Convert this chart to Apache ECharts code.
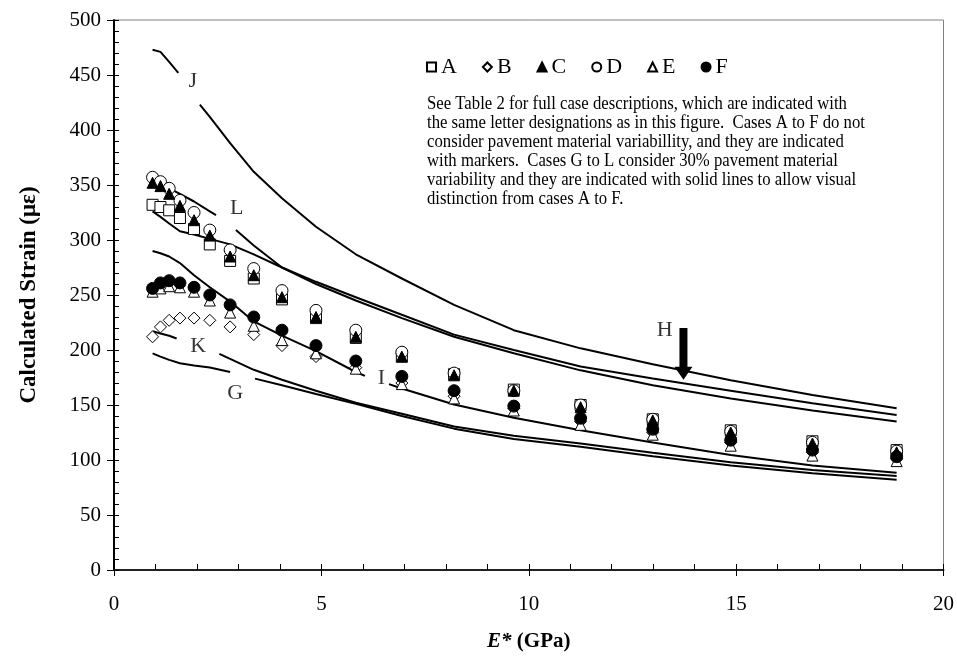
<!DOCTYPE html>
<html>
<head>
<meta charset="utf-8">
<script src="https://cdn.jsdelivr.net/npm/echarts@6/dist/echarts.min.js"></script>
<style>
html,body{margin:0;padding:0;background:#fff;}
#chart{width:957px;height:659px;}
</style>
</head>
<body>
<div id="chart"></div>
<script>
// ---------- data ----------
const E_GPA = [0.93, 1.12, 1.33, 1.59, 1.93, 2.31, 2.80, 3.37, 4.05, 4.87, 5.83, 6.94, 8.20, 9.64, 11.25, 12.99, 14.87, 16.84, 18.87];
const A = [332, 330, 327, 320, 310, 296, 281, 265, 246, 229, 211, 194, 178, 164, 150, 137, 127, 117, 109];
const B = [212, 221, 227, 229, 229, 227, 221, 214, 204, 194, 184, 170, 158, 147, 135, 125, 116, 107, 101];
const C = [352, 349, 342, 331, 318, 304, 285, 268, 248, 230, 212, 194, 177, 163, 148, 136, 125, 115, 107];
const D = [357, 353, 347, 336, 325, 309, 291, 274, 254, 236, 218, 198, 179, 163, 150, 137, 126, 116, 108];
const E = [253, 256, 258, 257, 253, 245, 234, 222, 209, 197, 183, 169, 156, 145, 132, 123, 113, 104, 99];
const F = [256, 261, 263, 261, 257, 250, 241, 230, 218, 204, 190, 176, 163, 149, 138, 128, 118, 109, 103];

// lines (null = break in the line where a label sits)
const J_X = [0.93, 1.12, 1.33, 1.55, null, 2.07, 2.31, 2.80, 3.37, 4.05, 4.87, 5.83, 6.94, 8.20, 9.64, 11.25, 12.99, 14.87, 16.84, 18.87];
const J_Y = [473, 471, 462, 452, null, 423, 412, 388, 362, 338, 312, 287, 265, 241, 218, 201.5, 187, 172.5, 159, 147];
const L_X = [0.93, 1.12, 1.33, 1.59, 1.93, 2.31, 2.46, null, 2.94, 3.37, 4.05, 4.87, 5.83, 6.94, 8.20, 9.64, 11.25, 12.99, 14.87, 16.84, 18.87];
const L_Y = [354, 351, 347, 342, 335, 326, 322.7, null, 309, 295, 275, 260, 245, 229, 212, 197, 181.5, 168, 156, 145, 135];
const H_X = [0.93, 1.12, 1.33, 1.59, 1.93, 2.31, 2.80, 3.37, 4.05, 4.87, 5.83, 6.94, 8.20, 9.64, 11.25, 12.99, 14.87, 16.84, 18.87];
const H_Y = [326, 321, 315, 308, 305, 301, 296, 287, 275, 262, 248, 232, 214, 200, 185, 174, 163, 151.5, 141];
const I_X = [0.93, 1.12, 1.33, 1.59, 1.93, 2.31, 2.80, 3.37, 4.05, 4.87, 5.83, 6.05, null, 6.63, 6.94, 8.20, 9.64, 11.25, 12.99, 14.87, 16.84, 18.87];
const I_Y = [290, 288, 285, 279, 268, 257, 244, 226, 213, 199, 180, 176.5, null, 169, 165, 150.5, 138.5, 127, 116, 104.5, 95, 88.5];
const K_X = [0.93, 1.12, 1.33, 1.51, null, 2.54, 2.80, 3.37, 4.05, 4.87, 5.83, 6.94, 8.20, 9.64, 11.25, 12.99, 14.87, 16.84, 18.87];
const K_Y = [217, 215, 213, 210.5, null, 196.5, 192, 182, 173, 163, 152, 142, 130.5, 122, 115, 106.5, 98, 91, 85.5];
const G_X = [0.93, 1.12, 1.33, 1.59, 1.93, 2.31, 2.80, null, 3.40, 4.05, 4.87, 5.83, 6.94, 8.20, 9.64, 11.25, 12.99, 14.87, 16.84, 18.87];
const G_Y = [197, 194, 191, 188, 186, 184, 180, null, 174, 168, 160, 151, 140, 128.5, 119, 112, 103.5, 95, 88, 82];

// line labels [text, x, y] and H arrow [x, yFrom, yTo]
const LINE_LABELS = [['J', 1.90, 444], ['L', 2.96, 329], ['K', 2.03, 203], ['G', 2.92, 161], ['I', 6.45, 174], ['H', 13.28, 218]];
const H_ARROW = [13.73, 220, 173];

const X_TICKS = {min: 0, max: 20, interval: 5};
const Y_TICKS = {min: 0, max: 500, interval: 50};

const NOTE = [
  'See Table 2 for full case descriptions, which are indicated with',
  'the same letter designations as in this figure.  Cases A to F do not',
  'consider pavement material variabillity, and they are indicated',
  'with markers.  Cases G to L consider 30% pavement material',
  'variability and they are indicated with solid lines to allow visual',
  'distinction from cases A to F.'
];

// ---------- chart ----------
const FONT = '"Liberation Serif", "Times New Roman", serif';
const chart = echarts.init(document.getElementById('chart'), null, {renderer: 'canvas'});

function pairs(xs, ys) {
  return xs.map((x, i) => (x === null ? ['-', '-'] : [x, ys[i]]));
}
function lineSeries(name, xs, ys) {
  return {
    name: name, type: 'line', data: pairs(xs, ys), symbol: 'none',
    connectNulls: false, z: 2, silent: true,
    lineStyle: {color: '#000', width: 2}
  };
}
function markerSeries(name, ys, symbol, size, fill, z) {
  return {
    name: name, type: 'scatter', data: E_GPA.map((x, i) => [x, ys[i]]),
    symbol: symbol, symbolSize: size, z: z,
    itemStyle: {color: fill, borderColor: '#000', borderWidth: 1, opacity: 1}
  };
}

const axisCommonX = {
  type: 'value', min: X_TICKS.min, max: X_TICKS.max, interval: X_TICKS.interval,
  splitLine: {show: false}
};
const axisCommonY = {
  type: 'value', min: Y_TICKS.min, max: Y_TICKS.max, interval: Y_TICKS.interval,
  splitLine: {show: false}
};

const option = {
  animation: false,
  backgroundColor: '#fff',
  grid: {left: 114, right: 13, top: 20, bottom: 89, show: true, borderColor: '#808080', borderWidth: 1},
  legend: {
    data: [
      {name: 'A', icon: 'rect'}, {name: 'B', icon: 'diamond'}, {name: 'C', icon: 'triangle'},
      {name: 'D', icon: 'circle'}, {name: 'E', icon: 'triangle'}, {name: 'F', icon: 'circle'}
    ],
    left: 421, top: 51, itemWidth: 9, itemHeight: 9, itemGap: 25,
    textStyle: {fontFamily: FONT, fontSize: 22, color: '#000'},
    selectedMode: false
  },
  xAxis: [
    Object.assign({}, axisCommonX, {
      position: 'bottom',
      axisLine: {show: true, onZero: false, lineStyle: {color: '#222', width: 2}},
      axisTick: {show: true, inside: false, length: 6, lineStyle: {color: '#000', width: 1}},
      minorTick: {show: false},
      axisLabel: {fontFamily: FONT, fontSize: 21, color: '#000', margin: 24},
      name: '{i|E*} {b|(GPa)}', nameLocation: 'middle', nameGap: 61,
      nameTextStyle: {
        fontFamily: FONT, fontSize: 21, color: '#000',
        rich: {
          i: {fontFamily: FONT, fontSize: 21, fontStyle: 'italic', fontWeight: 'bold', color: '#000'},
          b: {fontFamily: FONT, fontSize: 21, fontWeight: 'bold', color: '#000'}
        }
      }
    }),
    Object.assign({}, axisCommonX, {
      position: 'bottom',
      axisLine: {show: false, onZero: false},
      axisTick: {show: true, inside: true, length: 6, lineStyle: {color: '#000', width: 1}},
      minorTick: {show: true, splitNumber: 5, length: 6, lineStyle: {color: '#000', width: 1}},
      axisLabel: {show: false}
    })
  ],
  yAxis: [
    Object.assign({}, axisCommonY, {
      position: 'left',
      axisLine: {show: true, onZero: false, lineStyle: {color: '#000', width: 2}},
      axisTick: {show: true, inside: false, length: 7, lineStyle: {color: '#000', width: 1}},
      minorTick: {show: false},
      axisLabel: {fontFamily: FONT, fontSize: 21, color: '#000', margin: 13},
      name: 'Calculated Strain (με)', nameLocation: 'middle', nameGap: 73, nameRotate: 90,
      nameTextStyle: {fontFamily: FONT, fontSize: 23, fontWeight: 'bold', color: '#000'}
    }),
    Object.assign({}, axisCommonY, {
      position: 'left',
      axisLine: {show: false, onZero: false},
      axisTick: {show: true, inside: true, length: 5, lineStyle: {color: '#000', width: 1}},
      minorTick: {show: true, splitNumber: 5, length: 5, lineStyle: {color: '#000', width: 1}},
      axisLabel: {show: false}
    })
  ],
  graphic: [{
    type: 'text', left: 427, top: 95, scaleX: 0.88, originX: 0, z: 10,
    style: {
      text: NOTE.join('\n'), font: '19px ' + FONT, fill: '#000', lineHeight: 19
    }
  }],
  series: [
    lineSeries('G', G_X, G_Y),
    lineSeries('H', H_X, H_Y),
    lineSeries('I', I_X, I_Y),
    lineSeries('J', J_X, J_Y),
    lineSeries('K', K_X, K_Y),
    lineSeries('L', L_X, L_Y),
    markerSeries('A', A, 'rect', 11, '#fff', 3),
    markerSeries('B', B, 'diamond', 12, '#fff', 3),
    markerSeries('D', D, 'circle', 12, '#fff', 3),
    markerSeries('E', E, 'triangle', 11, '#fff', 4),
    markerSeries('C', C, 'triangle', 11, '#000', 5),
    markerSeries('F', F, 'circle', 12, '#000', 5),
    {
      name: 'labels', type: 'scatter', symbolSize: 0, z: 6, silent: true,
      data: LINE_LABELS.map(d => ({name: d[0], value: [d[1], d[2]]})),
      label: {show: true, position: 'inside', formatter: '{b}', fontFamily: FONT, fontSize: 22, color: '#000'}
    },
    {
      name: 'arrow', type: 'custom', z: 6, silent: true,
      data: [H_ARROW],
      renderItem: function (params, api) {
        const tail = api.coord([api.value(0), api.value(1)]);
        const tip = api.coord([api.value(0), api.value(2)]);
        const x = tip[0], hw = 4, headW = 9, headL = 13;
        return {
          type: 'polygon',
          shape: {points: [
            [x - hw, tail[1]], [x + hw, tail[1]], [x + hw, tip[1] - headL], [x + headW, tip[1] - headL],
            [x, tip[1]], [x - headW, tip[1] - headL], [x - hw, tip[1] - headL]
          ]},
          style: {fill: '#000'}
        };
      }
    }
  ]
};
chart.setOption(option);
</script>
</body>
</html>
